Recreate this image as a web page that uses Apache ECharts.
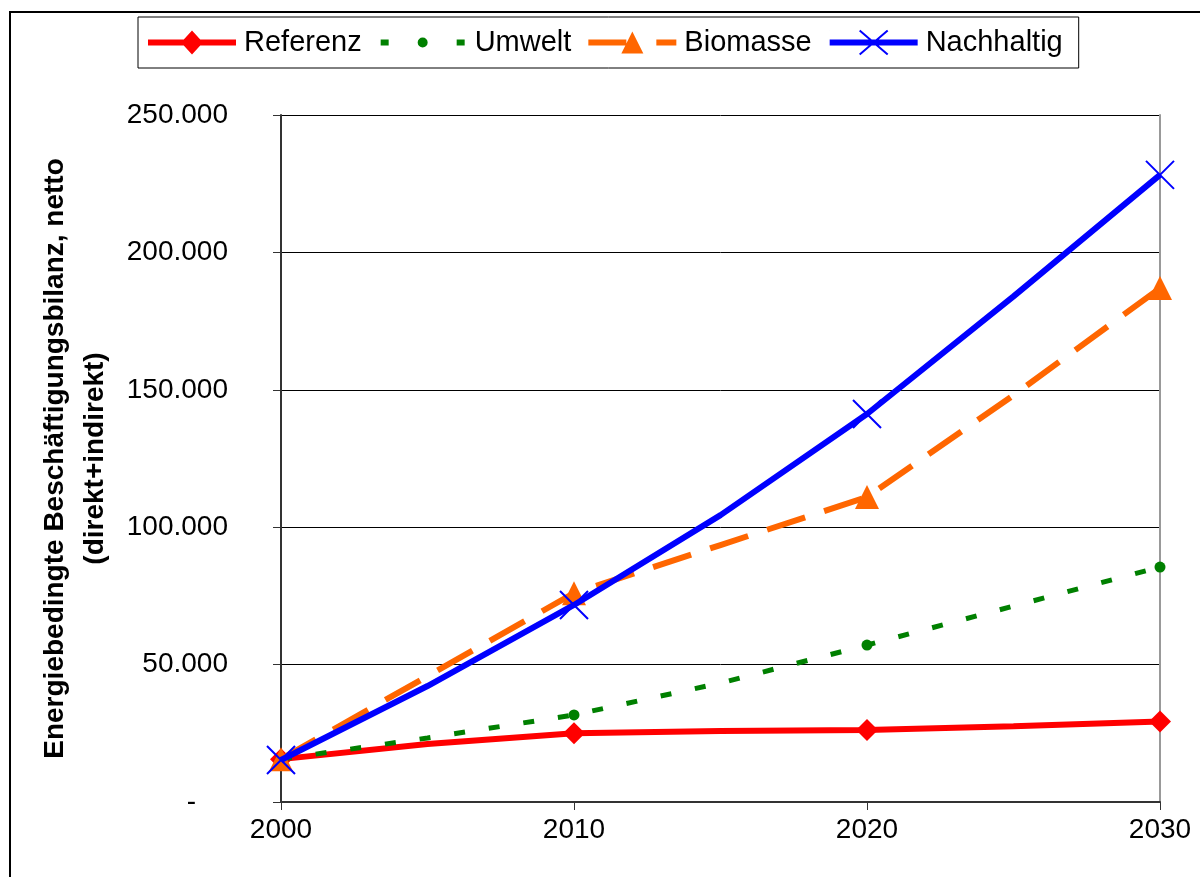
<!DOCTYPE html>
<html>
<head>
<meta charset="utf-8">
<script src="https://cdn.jsdelivr.net/npm/echarts@6/dist/echarts.min.js"></script>
<style>
  html, body { margin: 0; padding: 0; background: #fff; }
  #chart { width: 1200px; height: 877px; }
</style>
</head>
<body>
<div id="chart"></div>
<script>
// Jahre (nur die Dekaden bekommen Marker)
const years = [2000, 2005, 2010, 2015, 2020, 2025, 2030];
const referenz = [15600, 21100, 25000, 25800, 26200, 27600, 29300];
const umwelt = [15600, 23300, 31700, 43300, 57100, 71300, 85500];
const biomasse = [15600, 45800, 76000, 93500, 111000, 148000, 187000];
const nachhaltig = [15300, 42200, 71700, 104400, 141200, 184000, 228200];
const yTicks = [0, 50000, 100000, 150000, 200000, 250000];

function toData(arr) {
  return years.map((y, i) => {
    const item = { value: [y, arr[i]] };
    if (y % 10 !== 0) item.symbol = 'none';
    return item;
  });
}

function fmt(v) {
  if (v === 0) return '{d|-}';
  return String(v).replace(/\B(?=(\d{3})+(?!\d))/g, '.');
}

// Legenden-Icons im 88x24 Kasten (Ecken verankern die Box)
const box = 'M0,0L0.01,0M88,24L87.99,24';
const icons = {
  Referenz: 'path://' + box + 'M0,9L88,9L88,15L0,15ZM44,0L55,12L44,24L33,12Z',
  Umwelt: 'path://' + box + 'M2,9L10,9L10,15L2,15ZM39,12A5,5 0 1,1 49,12A5,5 0 1,1 39,12ZM78,9L86,9L86,15L78,15Z',
  Biomasse: 'path://' + box + 'M0,9L38,9L38,15L0,15ZM44,1L55,23L33,23ZM68,9L88,9L88,15L68,15Z',
  Nachhaltig: 'path://' + box + 'M1,10L87,10L87,14L1,14ZM30,0L58,24M58,0L30,24'
};

const chart = echarts.init(document.getElementById('chart'));
const font = 'Liberation Sans, Arial, sans-serif';

const option = {
  animation: false,
  textStyle: { fontFamily: font, color: '#000' },
  graphic: [{
    type: 'rect',
    shape: { x: 10, y: 12, width: 1200, height: 900 },
    style: { fill: 'none', stroke: '#000', lineWidth: 2 }
  }],
  legend: {
    top: 17,
    left: 138,
    padding: [9, 16, 9, 10],
    borderColor: '#000',
    borderWidth: 1,
    itemWidth: 88,
    itemHeight: 24,
    itemGap: 17,
    textStyle: { fontSize: 29, lineHeight: 33, fontFamily: font, color: '#000', padding: [0, 0, 0, 3] },
    data: ['Referenz', 'Umwelt', 'Biomasse', 'Nachhaltig'].map(n => ({ name: n, icon: icons[n] }))
  },
  grid: { left: 281, right: 40, top: 115, bottom: 75 },
  xAxis: {
    type: 'value',
    min: 2000,
    max: 2030,
    interval: 10,
    axisLine: { show: true, lineStyle: { color: '#333', width: 2 } },
    axisTick: { show: true, length: 8, lineStyle: { color: '#333', width: 1 } },
    axisLabel: { fontSize: 28, color: '#000', margin: 14, formatter: v => String(v) },
    splitLine: { show: false }
  },
  yAxis: [{
    type: 'value',
    min: yTicks[0],
    max: yTicks[yTicks.length - 1],
    interval: 50000,
    name: 'Energiebedingte Beschäftigungsbilanz, netto\n(direkt+indirekt)',
    nameLocation: 'middle',
    nameGap: 166,
    nameTextStyle: { fontSize: 28, fontWeight: 'bold', color: '#000', lineHeight: 40, fontFamily: font },
    axisLine: { show: true, lineStyle: { color: '#333', width: 2 } },
    axisTick: { show: true, length: 8, lineStyle: { color: '#333', width: 1 } },
    axisLabel: {
      fontSize: 28, color: '#000', margin: 53, formatter: fmt,
      rich: { d: { fontSize: 28, color: '#000', padding: [0, 32, 0, 0] } }
    },
    splitLine: { show: true, lineStyle: { color: '#000', width: 1 } }
  }, {
    type: 'value',
    position: 'right',
    min: yTicks[0],
    max: yTicks[yTicks.length - 1],
    interval: 50000,
    axisLine: { show: true, lineStyle: { color: '#999', width: 2 } },
    axisTick: { show: false },
    axisLabel: { show: false },
    splitLine: { show: false }
  }],
  series: [
    {
      name: 'Referenz',
      type: 'line',
      data: toData(referenz),
      symbol: 'diamond',
      symbolSize: 22,
      lineStyle: { color: '#FF0000', width: 6 },
      itemStyle: { color: '#FF0000', borderWidth: 0 },
      z: 2
    },
    {
      name: 'Umwelt',
      type: 'line',
      data: toData(umwelt),
      symbol: 'circle',
      symbolSize: 11,
      lineStyle: { color: '#008000', width: 5, type: [11, 24] },
      itemStyle: { color: '#008000', borderWidth: 0 },
      z: 3
    },
    {
      name: 'Biomasse',
      type: 'line',
      data: toData(biomasse),
      symbol: 'triangle',
      symbolSize: 24,
      lineStyle: { color: '#FF6600', width: 6, type: [40, 20] },
      itemStyle: { color: '#FF6600', borderWidth: 0 },
      z: 4
    },
    {
      name: 'Nachhaltig',
      type: 'line',
      data: toData(nachhaltig),
      symbol: 'path://M0,0L10,10M10,0L0,10',
      symbolSize: 28,
      lineStyle: { color: '#0000FF', width: 6 },
      itemStyle: { color: '#0000FF', borderColor: '#0000FF', borderWidth: 2 },
      z: 5
    }
  ]
};

chart.setOption(option);
</script>
</body>
</html>
